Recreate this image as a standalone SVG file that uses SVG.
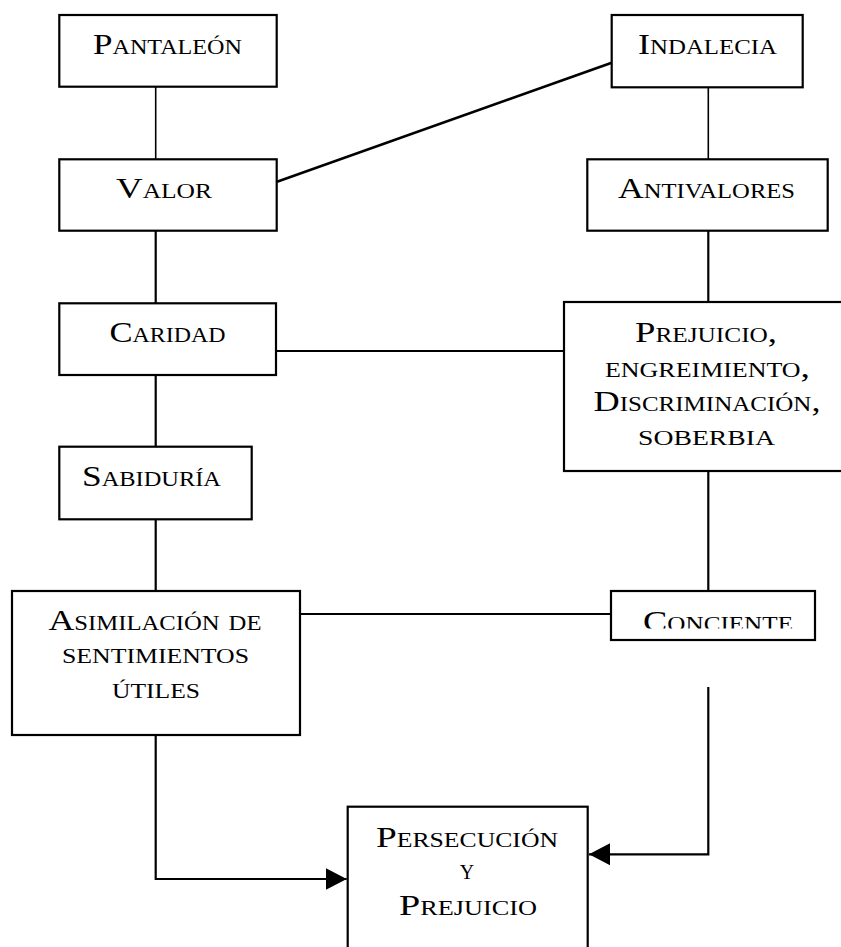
<svg xmlns="http://www.w3.org/2000/svg" width="841" height="947" viewBox="0 0 841 947">
  <style>
    .box { fill: #ffffff; stroke: #000000; stroke-width: 2.2; }
    .t { font-family: "Liberation Serif", "Times New Roman", serif; font-size: 29px; font-variant: small-caps; fill: #000000; text-anchor: middle; }
    .ln { fill: none; stroke: #000000; stroke-width: 2.2; }
    .thin { stroke-width: 1.6; }
    .diag { stroke-width: 2.6; }
  </style>
  <defs>
    <marker id="arrow" markerUnits="userSpaceOnUse" markerWidth="22" markerHeight="24" viewBox="0 0 22 24" refX="21" refY="12" orient="auto">
      <path d="M0,1 L21,12 L0,23 Z" fill="#000000"/>
    </marker>
    <clipPath id="concienteClip">
      <rect x="611" y="591" width="204" height="37.6"/>
    </clipPath>
  </defs>
  <rect width="841" height="947" fill="#ffffff"/>

  <g id="connectors">
    <!-- left column -->
    <line class="ln thin" x1="155.7" y1="87" x2="155.7" y2="159"/>
    <line class="ln" x1="155.7" y1="231" x2="155.7" y2="303"/>
    <line class="ln" x1="155.7" y1="375" x2="155.7" y2="447"/>
    <line class="ln" x1="155.7" y1="519" x2="155.7" y2="591"/>
    <!-- right column -->
    <line class="ln thin" x1="708.3" y1="87" x2="708.3" y2="159"/>
    <line class="ln" x1="708.3" y1="231" x2="708.3" y2="302"/>
    <line class="ln" x1="708.3" y1="471" x2="708.3" y2="591"/>
    <!-- cross links -->
    <line class="ln diag" x1="277" y1="181.7" x2="611.7" y2="62.7"/>
    <line class="ln" x1="276" y1="351" x2="564" y2="351"/>
    <line class="ln" x1="300" y1="614" x2="611" y2="614"/>
    <!-- arrows into the bottom box -->
    <polyline class="ln" points="155.7,735 155.7,879 346.7,879" marker-end="url(#arrow)"/>
    <polyline class="ln" points="708.3,687 708.3,854.3 589,854.3" marker-end="url(#arrow)"/>
  </g>

  <g id="pantaleon">
    <rect class="box" x="59.3" y="15" width="217.4" height="71.7"/>
    <text class="t" x="167.5" y="54" textLength="149" lengthAdjust="spacingAndGlyphs">Pantaleón</text>
  </g>

  <g id="indalecia">
    <rect class="box" x="611.7" y="15" width="191" height="72.3"/>
    <text class="t" x="707.5" y="54" textLength="139" lengthAdjust="spacingAndGlyphs">Indalecia</text>
  </g>

  <g id="valor">
    <rect class="box" x="59.3" y="159.3" width="217.4" height="71.4"/>
    <text class="t" x="164" y="198.3" textLength="96" lengthAdjust="spacingAndGlyphs">Valor</text>
  </g>

  <g id="antivalores">
    <rect class="box" x="587.3" y="159.3" width="240.4" height="71.4"/>
    <text class="t" x="706.5" y="198.3" textLength="177" lengthAdjust="spacingAndGlyphs">Antivalores</text>
  </g>

  <g id="caridad">
    <rect class="box" x="59.3" y="303.3" width="216.7" height="71.7"/>
    <text class="t" x="167.5" y="342.3" textLength="116" lengthAdjust="spacingAndGlyphs">Caridad</text>
  </g>

  <g id="prejuicio-engreimiento">
    <rect class="box" x="564" y="302" width="290" height="169"/>
    <text class="t" x="706" y="342" textLength="142" lengthAdjust="spacingAndGlyphs">Prejuicio,</text>
    <text class="t" x="707.5" y="376.7" textLength="205" lengthAdjust="spacingAndGlyphs">engreimiento,</text>
    <text class="t" x="707" y="410.5" textLength="227" lengthAdjust="spacingAndGlyphs">Discriminación,</text>
    <text class="t" x="706.5" y="445.3" textLength="137" lengthAdjust="spacingAndGlyphs">soberbia</text>
  </g>

  <g id="sabiduria">
    <rect class="box" x="59.3" y="446.7" width="192.4" height="72.6"/>
    <text class="t" x="151.5" y="485.7" textLength="139" lengthAdjust="spacingAndGlyphs">Sabiduría</text>
  </g>

  <g id="asimilacion">
    <rect class="box" x="12" y="591" width="288" height="144"/>
    <text class="t" x="155" y="630" textLength="213" lengthAdjust="spacingAndGlyphs">Asimilación de</text>
    <text class="t" x="155.5" y="663.3" textLength="187" lengthAdjust="spacingAndGlyphs">sentimientos</text>
    <text class="t" x="156" y="698.3" textLength="88" lengthAdjust="spacingAndGlyphs">útiles</text>
  </g>

  <g id="conciente">
    <rect class="box" x="611" y="591" width="204" height="49"/>
    <text class="t" x="718" y="630.5" textLength="150" lengthAdjust="spacingAndGlyphs" clip-path="url(#concienteClip)">Conciente</text>
  </g>

  <g id="persecucion">
    <rect class="box" x="347.7" y="806.7" width="240" height="160"/>
    <text class="t" x="467" y="846.7" textLength="182" lengthAdjust="spacingAndGlyphs">Persecución</text>
    <text class="t" x="467" y="879">y</text>
    <text class="t" x="468" y="915" textLength="138" lengthAdjust="spacingAndGlyphs">Prejuicio</text>
  </g>
</svg>
